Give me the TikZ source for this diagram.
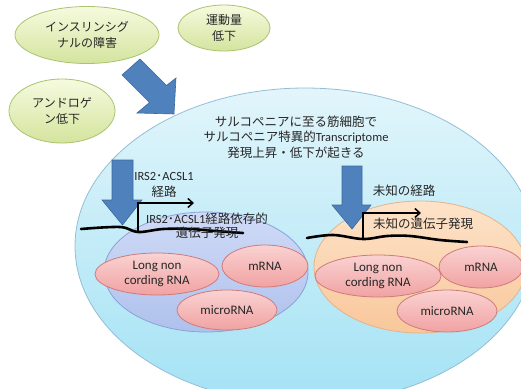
\documentclass[tikz,border=0pt]{standalone}
\usepackage{fontspec}
\setmainfont{Carlito}
\newfontfamily\jp{Noto Sans CJK JP}
\newcommand{\J}[1]{{\jp #1}}
\usetikzlibrary{shapes.geometric,arrows.meta}
\definecolor{txt}{HTML}{262626}
\definecolor{bigtop}{HTML}{E2F5FB}
\definecolor{bigbot}{HTML}{A3E2F4}
\definecolor{bigline}{HTML}{93BFD6}
\definecolor{lavtop}{HTML}{CFDAF6}
\definecolor{lavbot}{HTML}{AFC1EC}
\definecolor{lavline}{HTML}{8AA2D6}
\definecolor{pchtop}{HTML}{FDE3C9}
\definecolor{pchbot}{HTML}{F9C79B}
\definecolor{pchline}{HTML}{E3B48C}
\definecolor{pnktop}{HTML}{FAD2D2}
\definecolor{pnkbot}{HTML}{F1A2A2}
\definecolor{pnkline}{HTML}{CF7B7B}
\definecolor{grntop}{HTML}{F6FADF}
\definecolor{grnbot}{HTML}{D4E49E}
\definecolor{grnline}{HTML}{A8C46E}
\definecolor{arrfill}{HTML}{4F81BD}
\definecolor{arrline}{HTML}{3A6AA0}
\tikzset{
  ell/.style={ellipse, inner sep=0pt, align=center, text=txt},
  bigell/.style={ell, draw=bigline, line width=0.8pt, top color=bigtop, bottom color=bigbot},
  lavell/.style={ell, draw=lavline, line width=0.8pt, top color=lavtop, bottom color=lavbot},
  pchell/.style={ell, draw=pchline, line width=0.8pt, top color=pchtop, bottom color=pchbot},
  pnkell/.style={ell, draw=pnkline, line width=0.8pt, top color=pnktop, bottom color=pnkbot,
                 font=\fontsize{13}{14.5}\selectfont},
  grnell/.style={ell, draw=grnline, line width=0.8pt, top color=grntop, bottom color=grnbot,
                 font=\fontsize{12}{16}\selectfont},
  blockarrow/.style={fill=arrfill, draw=arrline, line width=0.6pt, line join=miter},
  label/.style={inner sep=0pt, align=center, text=txt},
  wave/.style={line width=2.6pt, black, line cap=round},
  gene/.style={line width=1.5pt, black, -{Straight Barb[length=5pt,width=9pt,line width=1.5pt]}},
}
\begin{document}
\begin{tikzpicture}[x=1pt,y=-1pt, font=\fontsize{12.5}{15.5}\selectfont]
\useasboundingbox (0,0) rectangle (521,388);
\clip (0,0) rectangle (521,388);
\fill[white] (0,0) rectangle (521,388);

% green cause ellipses
\node[grnell, minimum width=144pt, minimum height=57pt] (insulin) at (87,35)
  {\J{インスリンシグ}\\\J{ナルの障害}};
\node[grnell, minimum width=92pt, minimum height=46pt] (exercise) at (224,28)
  {\J{運動量}\\\J{低下}};
\node[grnell, minimum width=106pt, minimum height=64pt] (androgen) at (62,111)
  {\J{アンドロゲ}\\\J{ン低下}};

% big cell ellipse
\node[bigell, minimum width=460pt, minimum height=316pt] (cell) at (305,246) {};

% sub ellipses
\node[lavell, minimum width=204pt, minimum height=120pt] (known) at (206,272) {};
\node[pchell, minimum width=212pt, minimum height=132pt] (unknown) at (420,267) {};

% RNA ellipses (left)
\node[pnkell, minimum width=124pt, minimum height=42pt] (lnc1) at (157,274) {Long non\\cording RNA};
\node[pnkell, minimum width=86pt, minimum height=42pt] (mrna1) at (265,266) {mRNA};
\node[pnkell, minimum width=100pt, minimum height=40pt] (mic1) at (227,310) {microRNA};
% RNA ellipses (right)
\node[pnkell, minimum width=126pt, minimum height=42pt] (lnc2) at (378,276) {Long non\\cording RNA};
\node[pnkell, minimum width=84pt, minimum height=42pt] (mrna2) at (481,267) {mRNA};
\node[pnkell, minimum width=100pt, minimum height=42pt] (mic2) at (447,311) {microRNA};

% big diagonal arrow
\draw[blockarrow] (122,75) -- (140,59) -- (166.5,85.5) -- (176,78) -- (174,114)
  -- (137,113) -- (149.5,102.5) -- cycle;

% down arrows
\draw[blockarrow] (112,160) -- (133,160) -- (133,200) -- (142,200) -- (122.5,225)
  -- (102,200) -- (112,200) -- cycle;
\draw[blockarrow] (342,166) -- (362,166) -- (362,205) -- (371,205) -- (352,229)
  -- (332,205) -- (342,205) -- cycle;

% main text
\node[label, font=\fontsize{12.5}{15.5}\selectfont] (title) at (296,137)
  {\J{サルコペニアに至る筋細胞で}\\\J{サルコペニア特異的}Transcriptome\\\J{発現上昇・低下が起きる}};

% pathway labels
\node[label] (irs) at (164,185) {IRS2\J{･}ACSL1\\\J{経路}};
\node[label] (unkpath) at (404,191) {\J{未知の経路}};

% gene lines (left)
\draw[wave] plot[smooth, tension=0.6] coordinates {(81,229) (120,227) (138,232) (163,229) (190,229) (215,231) (243,233)};
\coordinate (ts1) at (138,232);
\coordinate (te1) at (194,203);
\draw[gene] (ts1) |- (te1);

% gene lines (right)
\draw[wave] plot[smooth, tension=0.6] coordinates {(307,238) (333,235) (363,239) (387,236) (410,236) (440,240) (467,242)};
\coordinate (ts2) at (363,239);
\coordinate (te2) at (421,213);
\draw[gene] (ts2) |- (te2);

% gene expression labels
\node[label, font=\fontsize{12.5}{13.5}\selectfont] (irsgene) at (207,226)
  {IRS2\J{･}ACSL1\J{経路依存的}\\\J{遺伝子発現}};
\node[label] (unkgene) at (423,224) {\J{未知の遺伝子発現}};
\end{tikzpicture}
\end{document}
